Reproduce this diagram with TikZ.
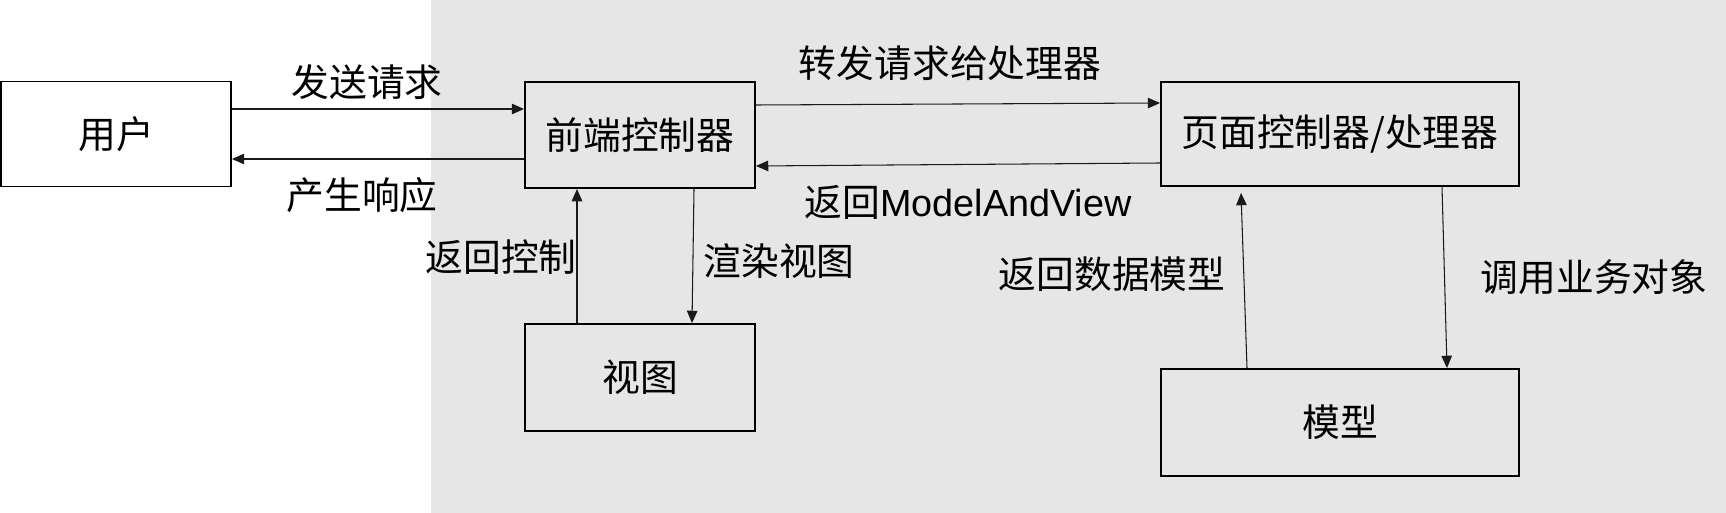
\documentclass[tikz,border=0pt]{standalone}
\usepackage{fontspec}
\setmainfont{Liberation Sans}
\newfontfamily\cjk{Noto Sans CJK SC}
\usepackage{xcolor}
\definecolor{panelgray}{HTML}{E6E6E6}
\definecolor{linedark}{HTML}{1A1A1A}
\usetikzlibrary{arrows.meta,calc}
\newcommand\mvcfont{\fontsize{21.5}{25}\selectfont\cjk}

\begin{document}
\begin{tikzpicture}[x=0.02cm, y=-0.02cm,
    box/.style={draw=black, line width=1.1pt, inner sep=0pt, font=\mvcfont},
    lbl/.style={inner sep=0pt, font=\mvcfont, text=black},
    flow/.style={linedark, line width=0.6pt, -{Triangle[length=7pt, width=6pt]}}]
        \useasboundingbox (0,0) rectangle (1726,513);
        \fill[panelgray] (431,0) rectangle (1726,513);

        % Boxes
        \node[box, minimum width=4.6cm, minimum height=2.1cm] (user) at (116,134) {用户};
        \node[box, minimum width=4.6cm, minimum height=2.12cm] (front) at (640,135) {前端控制器};
        \node[box, minimum width=4.6cm, minimum height=2.14cm] (view) at (640,377.5) {视图};
        \node[box, minimum width=7.16cm, minimum height=2.08cm] (handler) at (1340,134) {页面控制器/处理器};
        \node[box, minimum width=7.16cm, minimum height=2.14cm] (model) at (1340,422.5) {模型};

        % User <-> front controller
        \draw[flow] ($(user.east)+(0,-25)$) -- ($(front.west)+(0,-26)$);
        \draw[flow] ($(front.west)+(0,24)$) -- ($(user.east)+(0,25)$);
        \node[lbl] (lsend) at (367,82) {发送请求};
        \node[lbl] (lresp) at (362,195) {产生响应};

        % Front controller <-> view
        \draw[flow] ($(view.north)+(-63,0)$) -- ($(front.south)+(-63,0)$);
        \draw[flow] ($(front.south)+(54,0)$) -- ($(view.north)+(52,0)$);
        \node[lbl] (lback) at (501,257) {返回控制};
        \node[lbl] (lrender) at (779,261) {渲染视图};

        % Front controller <-> handler
        \draw[flow] ($(front.east)+(0,-30)$) -- ($(handler.west)+(0,-31)$);
        \draw[flow] ($(handler.west)+(0,29)$) -- ($(front.east)+(0,31)$);
        \node[lbl] (lfwd) at (950,63) {转发请求给处理器};
        \node[lbl, font=\fontsize{21.5}{25}\selectfont] (lmav) at (968,202) {{\cjk 返回}ModelAndView};

        % Handler <-> model
        \draw[flow] ($(model.north)+(-93,0)$) -- ($(handler.south)+(-99,6)$);
        \draw[flow] ($(handler.south)+(102,0)$) -- ($(model.north)+(107,0)$);
        \node[lbl] (ldata) at (1112,274) {返回数据模型};
        \node[lbl] (lcall) at (1594,277) {调用业务对象};
\end{tikzpicture}
\end{document}
